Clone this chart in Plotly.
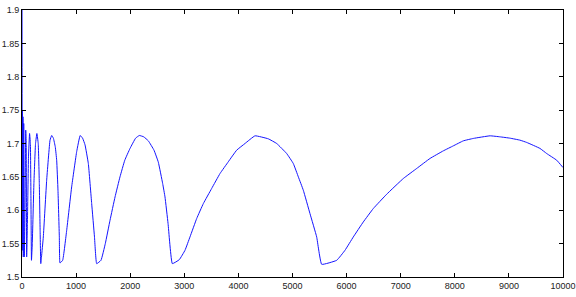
import plotly.graph_objects as go

x_vals = [0, 4, 8, 12, 18, 24, 32, 43, 55, 69, 78, 86, 100, 120, 140, 155, 165, 175,
          190, 220, 250, 275, 300, 320, 335, 347, 360, 394, 456, 518, 549, 580, 615,
          641, 665, 690, 702, 752, 826, 918, 1011, 1075, 1120, 1165, 1226, 1288, 1340,
          1380, 1460, 1540, 1627, 1720, 1811, 1900, 1996, 2100, 2169, 2250, 2335, 2440,
          2520, 2600, 2643, 2700, 2779, 2908, 3013, 3105, 3229, 3352, 3506, 3660, 3813,
          3968, 4122, 4307, 4553, 4708, 4892, 5015, 5108, 5200, 5323, 5447, 5540, 5817,
          5970, 6124, 6309, 6494, 6741, 7049, 7296, 7542, 7788, 7973, 8158, 8343, 8651,
          8835, 9020, 9205, 9329, 9575, 9698, 9883, 10000]
y_vals = [1.95, 1.55, 1.75, 1.54, 1.74, 1.53, 1.73, 1.53, 1.60, 1.72, 1.70, 1.53, 1.58,
          1.68, 1.715, 1.70, 1.62, 1.525, 1.55, 1.64, 1.70, 1.715, 1.70, 1.64, 1.57,
          1.52, 1.53, 1.56, 1.645, 1.705, 1.712, 1.708, 1.695, 1.675, 1.63, 1.56, 1.521,
          1.525, 1.57, 1.635, 1.688, 1.712, 1.708, 1.698, 1.67, 1.61, 1.56, 1.52, 1.525,
          1.55, 1.585, 1.62, 1.65, 1.675, 1.6925, 1.708, 1.712, 1.710, 1.704, 1.690,
          1.672, 1.64, 1.62, 1.58, 1.52, 1.526, 1.540, 1.56, 1.5876, 1.61, 1.6326, 1.655,
          1.6726, 1.69, 1.700, 1.7115, 1.707, 1.700, 1.685, 1.670, 1.650, 1.630, 1.595,
          1.560, 1.519, 1.525, 1.54, 1.560, 1.5825, 1.6026, 1.624, 1.6476, 1.6626, 1.6776,
          1.689, 1.6965, 1.704, 1.7076, 1.7115, 1.710, 1.708, 1.705, 1.7016, 1.6926,
          1.685, 1.675, 1.664]

x_tick_vals = [0, 1000, 2000, 3000, 4000, 5000, 6000, 7000, 8000, 9000, 10000]
x_tick_text = ["0", "1000", "2000", "3000", "4000", "5000", "6000", "7000", "8000", "9000", "10000"]
y_tick_vals = [1.5, 1.55, 1.6, 1.65, 1.7, 1.75, 1.8, 1.85, 1.9]
y_tick_text = ["1.5", "1.55", "1.6", "1.65", "1.7", "1.75", "1.8", "1.85", "1.9"]

fig = go.Figure()
fig.add_trace(go.Scatter(x=x_vals, y=y_vals, mode="lines",
                         line=dict(color="rgb(20,20,255)", width=1, shape="spline",
                                   smoothing=0.3),
                         showlegend=False))

axis_common = dict(showgrid=False, zeroline=False, showline=True, linecolor="black",
                   linewidth=1, mirror="ticks", ticks="inside", ticklen=4,
                   tickcolor="black", tickwidth=1, automargin=False,
                   tickfont=dict(family="Liberation Sans, Arial", size=9, color="#222"))

fig.update_xaxes(range=[0, 10000], tickvals=x_tick_vals, ticktext=x_tick_text, **axis_common)
fig.update_yaxes(range=[1.5, 1.9], tickvals=y_tick_vals, ticktext=y_tick_text, **axis_common)

fig.update_layout(width=576, height=297, margin=dict(l=22, r=13, t=10, b=20),
                  paper_bgcolor="white", plot_bgcolor="white")

fig.write_html("out.html")
